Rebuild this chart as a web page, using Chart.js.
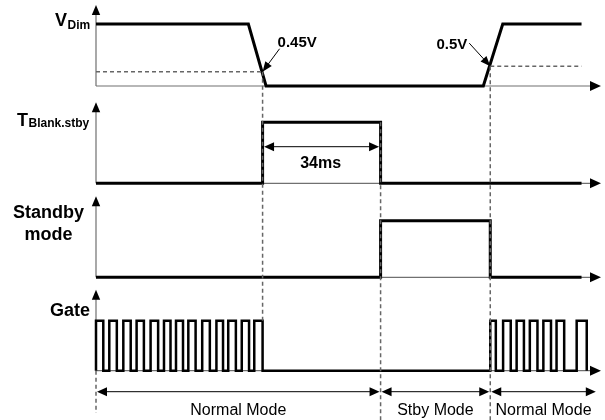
<!DOCTYPE html>
<html><head><meta charset="utf-8">
<script src="https://cdn.jsdelivr.net/npm/chart.js@4.4.1/dist/chart.umd.min.js"></script>
<style>html,body{margin:0;padding:0;background:#fff;} #wrap{position:relative;width:605px;height:420px;}</style>
</head><body><div id="wrap"><canvas id="c"></canvas></div>
<script>
// ---------------- data (time in ms, level 0 = low, 1 = high) ----------------
const blankTime = 34;
const vdimTimes  = [0, 43.9, 49.0, 111.6, 117.2, 139.9];
const vdimLevels = [1, 1, 0, 0, 1, 1];
const thresholdLabels = ['0.45V', '0.5V'];
const thresholdLevels = [0.23, 0.32];
const thresholdTimes  = [48.0, 113.6];
const blankTimes  = [0, 48.0, 48.0, 82.0, 82.0, 139.9];
const blankLevels = [0, 0, 1, 1, 0, 0];
const stbyTimes  = [0, 82.0, 82.0, 113.6, 113.6, 139.9];
const stbyLevels = [0, 0, 1, 1, 0, 0];
const gateRise = [0, 3.83, 7.87, 11.70, 15.73, 19.59, 23.05, 26.6, 30.6, 34.7, 38.1, 42.0, 45.6,
                  113.6, 117.3, 121.2, 125.0, 128.9, 132.7, 138.5];
const gateFall = [2.1, 6.0, 10.0, 13.8, 17.9, 21.47, 25.07, 28.7, 32.8, 36.6, 40.3, 44.1, 48.0,
                  115.2, 119.5, 123.3, 127.2, 131.1, 134.9, 141.4];
const modeBounds = [0, 82.0, 113.6, 144.3];
const modeLabels = ['Normal Mode', 'Stby Mode', 'Normal Mode'];
const signalEnd = 139.9;

// ---------------- layout ----------------
const W = 605, H = 420, ORIGIN_X = 96, PX_PER_MS = 118 / 34;
const AXIS_END_MS = 145.5, AXIS_LEN = 81;
const PANELS = {
  yV: {base: 86, amp: 62},
  yB: {base: 183.3, amp: 61},
  yS: {base: 277.3, amp: 56.6},
  yG: {base: 370.7, amp: 50}
};
const FONT = '"Liberation Sans", Arial, Helvetica, sans-serif';
const AXIS_GRAY = '#707070', DASH_GRAY = '#666666';

function pts(ts, ls) { return ts.map((t, i) => ({x: t, y: ls[i]})); }
function gatePts() {
  const out = [];
  gateRise.forEach((r, i) => {
    const f = gateFall[i];
    out.push({x: r, y: 0}, {x: r, y: 1}, {x: f, y: 1}, {x: f, y: 0});
  });
  return out;
}

const scales = {
  x: {type: 'linear', display: false, min: -ORIGIN_X / PX_PER_MS, max: (W - ORIGIN_X) / PX_PER_MS}
};
Object.keys(PANELS).forEach(k => {
  const p = PANELS[k];
  scales[k] = {type: 'linear', display: false, min: -(H - p.base) / p.amp, max: p.base / p.amp};
});

function arrowHead(ctx, tx, ty, ang, len, hw) {
  ctx.save();
  ctx.translate(tx, ty); ctx.rotate(ang);
  ctx.beginPath(); ctx.moveTo(0, 0); ctx.lineTo(-len, -hw); ctx.lineTo(-len, hw); ctx.closePath();
  ctx.fillStyle = '#000'; ctx.fill();
  ctx.restore();
}

const diagram = {
  id: 'diagram',
  beforeDatasetsDraw(chart) {
    const ctx = chart.ctx, xs = chart.scales.x;
    const x0 = xs.getPixelForValue(0), xe = xs.getPixelForValue(AXIS_END_MS);
    ctx.save();
    Object.keys(PANELS).forEach(k => {
      const yb = chart.scales[k].getPixelForValue(0);
      ctx.strokeStyle = AXIS_GRAY; ctx.lineWidth = 1.2;
      ctx.beginPath();
      ctx.moveTo(x0, yb); ctx.lineTo(x0, yb - AXIS_LEN + 6);
      ctx.moveTo(x0, yb); ctx.lineTo(xe - 6, yb);
      ctx.stroke();
      arrowHead(ctx, x0, yb - AXIS_LEN, -Math.PI / 2, 10, 4.2);
      arrowHead(ctx, xe, yb, 0, 11, 5);
    });
    ctx.restore();
  },
  afterDatasetsDraw(chart) {
    const ctx = chart.ctx, xs = chart.scales.x, S = chart.scales;
    const X = t => xs.getPixelForValue(t);
    ctx.save();
    // dashed guide lines
    ctx.strokeStyle = DASH_GRAY; ctx.lineWidth = 1.5; ctx.setLineDash([4, 3]);
    const T1 = thresholdTimes[0], T2 = T1 + blankTime, T3 = thresholdTimes[1];
    const seg = (x1, y1, x2, y2) => { ctx.beginPath(); ctx.moveTo(x1, y1); ctx.lineTo(x2, y2); ctx.stroke(); };
    seg(X(0), S.yV.getPixelForValue(thresholdLevels[0]), X(T1), S.yV.getPixelForValue(thresholdLevels[0]));
    seg(X(T3), S.yV.getPixelForValue(thresholdLevels[1]), X(signalEnd), S.yV.getPixelForValue(thresholdLevels[1]));
    seg(X(T1), S.yV.getPixelForValue(thresholdLevels[0]), X(T1), S.yG.getPixelForValue(1));
    seg(X(T2), S.yB.getPixelForValue(1), X(T2), H);
    seg(X(T3), S.yV.getPixelForValue(thresholdLevels[1]), X(T3), H);
    seg(X(0), S.yG.getPixelForValue(0), X(0), H - 7);
    ctx.setLineDash([]);

    // threshold callouts
    ctx.fillStyle = '#000'; ctx.strokeStyle = '#000'; ctx.lineWidth = 1;
    ctx.font = 'bold 15px ' + FONT; ctx.textBaseline = 'alphabetic';
    const callouts = [
      {dx: 17, dy: -23, tx: 15, ty: -24.5, align: 'left'},
      {dx: -21, dy: -23, tx: -23, ty: -17, align: 'right'}
    ];
    thresholdTimes.forEach((t, i) => {
      const cx = X(t), cy = S.yV.getPixelForValue(thresholdLevels[i]);
      const c = callouts[i];
      const sx = cx + c.dx, sy = cy + c.dy;
      const ang = Math.atan2(cy - sy, cx - sx);
      const ex = cx - Math.cos(ang) * 8, ey = cy - Math.sin(ang) * 8;
      seg(sx, sy, ex, ey);
      arrowHead(ctx, cx, cy, ang, 10, 4);
      ctx.textAlign = c.align;
      ctx.fillText(thresholdLabels[i], cx + c.tx, cy + c.ty);
    });

    // 34 ms dimension
    const ay = S.yB.getPixelForValue(0.6);
    seg(X(T1) + 8, ay, X(T2) - 8, ay);
    arrowHead(ctx, X(T1) + 1.5, ay, Math.PI, 10, 4.5);
    arrowHead(ctx, X(T2) - 1.5, ay, 0, 10, 4.5);
    ctx.font = 'bold 16px ' + FONT; ctx.textAlign = 'center';
    ctx.fillText(blankTime + 'ms', (X(T1) + X(T2)) / 2 - 1, ay + 21.5);

    // mode arrows
    const my = S.yG.getPixelForValue(0) + 21;
    ctx.lineWidth = 1;
    for (let i = 0; i < modeLabels.length; i++) {
      const a = X(modeBounds[i]), b = X(modeBounds[i + 1]);
      seg(a + 8, my, b - 8, my);
      arrowHead(ctx, a + 1, my, Math.PI, 10, 4.5);
      arrowHead(ctx, b - 1, my, 0, 10, 4.5);
      ctx.font = '16px ' + FONT; ctx.textAlign = 'center';
      ctx.fillText(modeLabels[i], (a + b) / 2, my + 23.5);
    }

    // signal names
    const bV = S.yV.getPixelForValue(0), bB = S.yB.getPixelForValue(0);
    const bS = S.yS.getPixelForValue(0), bG = S.yG.getPixelForValue(0);
    ctx.textAlign = 'left';
    ctx.font = 'bold 18px ' + FONT; ctx.fillText('V', 55, bV - 60);
    ctx.font = 'bold 12px ' + FONT; ctx.fillText('Dim', 67.5, bV - 57.5);
    ctx.font = 'bold 18px ' + FONT; ctx.fillText('T', 17, bB - 57);
    ctx.font = 'bold 12px ' + FONT; ctx.fillText('Blank.stby', 28.5, bB - 56.3);
    ctx.font = 'bold 18px ' + FONT; ctx.textAlign = 'center';
    ctx.fillText('Standby', 48.5, bS - 59.5);
    ctx.fillText('mode', 48.5, bS - 37.5);
    ctx.textAlign = 'right';
    ctx.fillText('Gate', 90, bG - 54.5);
    ctx.restore();
  }
};

const common = {borderColor: '#000', pointRadius: 0, fill: false, tension: 0,
                borderJoinStyle: 'miter', borderCapStyle: 'butt'};
new Chart(document.getElementById('c'), {
  type: 'line',
  data: {datasets: [
    Object.assign({label: 'VDim', data: pts(vdimTimes, vdimLevels), yAxisID: 'yV', borderWidth: 3}, common),
    Object.assign({label: 'TBlank', data: pts(blankTimes, blankLevels), yAxisID: 'yB', borderWidth: 3}, common),
    Object.assign({label: 'Standby', data: pts(stbyTimes, stbyLevels), yAxisID: 'yS', borderWidth: 3}, common),
    Object.assign({label: 'Gate', data: gatePts(), yAxisID: 'yG', borderWidth: 2.5}, common)
  ]},
  options: {
    responsive: true, maintainAspectRatio: false, animation: false,
    layout: {padding: 0},
    plugins: {legend: {display: false}, tooltip: {enabled: false}, title: {display: false}},
    events: [],
    scales: scales
  },
  plugins: [diagram]
});
</script></body></html>
